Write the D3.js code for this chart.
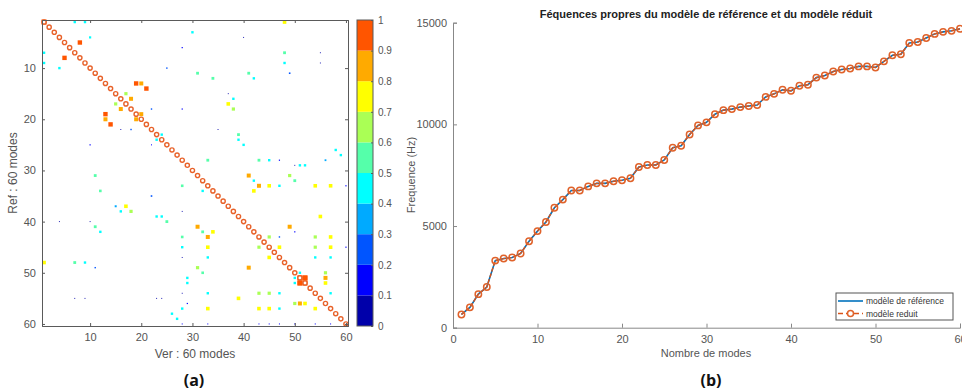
<!DOCTYPE html>
<html>
<head>
<meta charset="utf-8">
<script src="https://cdn.jsdelivr.net/npm/d3@7"></script>
<style>
  body { margin: 0; background: #fff; }
  svg { display: block; font-family: "Liberation Sans", Arial, sans-serif; }
</style>
</head>
<body>
<svg id="fig" width="962" height="391"></svg>
<script>
// ---- data ----
// panel (a): MAC matrix, off-diagonal entries (row, column, value)
const macRows = [1, 1, 4, 5, 8, 7, 9, 10, 10, 13, 13, 14, 15, 16, 17, 18, 19, 20, 20, 19, 21, 18, 22, 22, 23, 24, 25, 25, 18, 6, 3, 11, 31,
  1, 4, 7, 9, 11, 7, 9, 12, 11, 12, 16, 17, 18, 15, 23, 24, 25, 22, 26, 27, 28, 28, 28, 28, 28, 29, 29, 29, 31, 31,
  32, 32, 33, 33, 33, 33, 33, 33, 33, 34, 34, 38, 39, 41, 41, 42, 42, 42, 43, 43, 43, 43, 43, 43, 45, 45, 45, 45, 45, 45, 45,
  47, 47, 47, 47, 47, 49, 49, 50, 50, 51, 52, 51, 52, 50, 51, 52, 51, 52, 54, 55, 54, 54, 54, 54, 56, 56, 56, 57, 57, 57, 57, 57,
  60, 60, 60, 60, 60, 60, 60, 60,
  34, 35, 37, 37, 38, 38, 41, 42, 39, 39, 40, 40, 40, 48, 48, 48, 49, 55, 55, 55, 55, 56, 57, 58, 59, 54];
const macCols = [7, 9, 10, 8, 5, 1, 1, 4, 25, 19, 20, 21, 17, 18, 15, 16, 13, 13, 19, 20, 14, 22, 18, 16, 24, 23, 22, 10, 28, 28, 30, 31, 11,
  48, 40, 48, 48, 49, 55, 55, 34, 41, 42, 38, 37, 38, 37, 39, 39, 40, 35, 58, 59, 33, 43, 45, 47, 56, 51, 52, 50, 41, 49,
  42, 50, 28, 43, 45, 47, 54, 57, 60, 32, 42, 28, 55, 31, 49, 32, 34, 50, 28, 33, 45, 54, 57, 47, 28, 33, 43, 47, 54, 57, 60,
  33, 45, 54, 57, 28, 31, 41, 56, 32, 29, 29, 50, 50, 51, 56, 56, 52, 51, 33, 39, 43, 45, 47, 57, 50, 51, 52, 33, 43, 45, 47, 54,
  28, 33, 43, 45, 47, 50, 54, 57,
  12, 22, 15, 17, 16, 18, 11, 12, 23, 24, 25, 4, 10, 1, 7, 9, 11, 7, 9, 23, 24, 29, 28, 26, 27, 28];
const macVals = [0.45, 0.45, 0.4, 0.95, 0.95, 0.45, 0.45, 0.45, 0.2, 0.95, 0.85, 0.95, 0.65, 0.85, 0.65, 0.85, 0.95, 0.85, 0.85, 0.85, 0.95, 0.2, 0.2, 0.08, 0.45, 0.45, 0.1, 0.15, 0.15, 0.15, 0.45, 0.55, 0.55,
  0.75, 0.08, 0.55, 0.45, 0.25, 0.08, 0.08, 0.55, 0.55, 0.45, 0.45, 0.75, 0.65, 0.08, 0.55, 0.45, 0.45, 0.08, 0.45, 0.45, 0.55, 0.55, 0.45, 0.15, 0.3, 0.45, 0.45, 0.08, 0.85, 0.65,
  0.45, 0.55, 0.5, 0.85, 0.75, 0.45, 0.75, 0.75, 0.15, 0.45, 0.75, 0.08, 0.75, 0.85, 0.85, 0.55, 0.75, 0.15, 0.5, 0.85, 0.65, 0.65, 0.75, 0.2, 0.45, 0.75, 0.65, 0.75, 0.65, 0.75, 0.15,
  0.45, 0.75, 0.45, 0.45, 0.08, 0.65, 0.85, 0.65, 0.5, 0.45, 0.45, 0.45, 0.45, 0.45, 0.85, 0.75, 0.97, 0.97, 0.45, 0.75, 0.65, 0.65, 0.45, 0.45, 0.65, 0.85, 0.75, 0.75, 0.75, 0.75, 0.45, 0.75,
  0.1, 0.1, 0.1, 0.1, 0.1, 0.1, 0.1, 0.1,
  0.5, 0.25, 0.35, 0.75, 0.45, 0.65, 0.55, 0.45, 0.45, 0.45, 0.55, 0.08, 0.08, 0.75, 0.55, 0.45, 0.2, 0.08, 0.08, 0.08, 0.08, 0.15, 0.45, 0.45, 0.45, 0.08];
// diagonal blocks drawn as full cells (near-degenerate mode pairs)
const blockRows = [1, 51, 51, 52, 52];
const blockCols = [1, 51, 52, 51, 52];
const jetColors = ["#0000aa", "#0000ff", "#0055ff", "#00aaff", "#00ffff", "#55ffaa", "#aaff55", "#ffff00", "#ffaa00", "#ff5500"];
const matrixTicks = [10, 20, 30, 40, 50, 60];
const colorbarTicks = [0, 0.1, 0.2, 0.3, 0.4, 0.5, 0.6, 0.7, 0.8, 0.9, 1];

// panel (b): eigenfrequencies (Hz) per mode
const modes = d3.range(1, 61);
const freqRef = [650, 1000, 1650, 2000, 3300, 3400, 3450, 3650, 4250, 4750,
  5200, 5900, 6300, 6750, 6750, 6950, 7100, 7100, 7200, 7250,
  7350, 7900, 8000, 8000, 8250, 8850, 8950, 9500, 9950, 10100,
  10500, 10700, 10750, 10850, 10900, 10950, 11350, 11500, 11700, 11650,
  11900, 11950, 12300, 12400, 12600, 12700, 12750, 12850, 12850, 12800,
  13100, 13400, 13450, 14000, 14050, 14250, 14450, 14550, 14600, 14700];
const freqRed = [650, 1000, 1650, 2000, 3300, 3400, 3450, 3650, 4250, 4750,
  5200, 5900, 6300, 6750, 6750, 6950, 7100, 7100, 7200, 7250,
  7350, 7900, 8000, 8000, 8250, 8850, 8950, 9500, 9950, 10100,
  10500, 10700, 10750, 10850, 10900, 10950, 11350, 11500, 11700, 11650,
  11900, 11950, 12300, 12400, 12600, 12700, 12750, 12850, 12850, 12800,
  13100, 13400, 13450, 14000, 14050, 14250, 14450, 14550, 14600, 14700];
const freqTicks = [0, 5000, 10000, 15000];
const modeTicks = [0, 10, 20, 30, 40, 50, 60];

const svg = d3.select("#fig");
const axisGray = "#5a5a5a";
const textGray = "#555";

// ---------- panel (a) ----------
const mx = d3.scaleLinear().domain([0.6, 60.4]).range([42, 348]);
const my = d3.scaleLinear().domain([0.6, 60.4]).range([20, 326]);
const color = d3.scaleQuantize().domain([0, 1]).range(jetColors);
const cellSize = v => 0.6 + 4.0 * v;

const pa = svg.append("g");

const entries = macRows.map((r, i) => ({ r, c: macCols[i], v: macVals[i] }));

pa.append("g").selectAll("rect")
  .data(entries)
  .enter()
  .append("rect")
  .attr("x", d => mx(d.c) - cellSize(d.v) / 2)
  .attr("y", d => my(d.r) - cellSize(d.v) / 2)
  .attr("width", d => cellSize(d.v))
  .attr("height", d => cellSize(d.v))
  .attr("fill", d => color(Math.min(d.v, 0.999)));

// full-cell blocks on the diagonal
const cw = mx(2) - mx(1);
pa.append("g").selectAll("rect")
  .data(blockRows.map((r, i) => ({ r, c: blockCols[i] })))
  .enter()
  .append("rect")
  .attr("x", d => mx(d.c) - cw / 2)
  .attr("y", d => my(d.r) - cw / 2)
  .attr("width", cw)
  .attr("height", cw)
  .attr("fill", color(0.99));

// diagonal (value 1)
pa.append("g").selectAll("circle")
  .data(modes)
  .enter()
  .append("circle")
  .attr("cx", d => mx(d))
  .attr("cy", d => my(d))
  .attr("r", 2.1)
  .attr("fill", "#fff")
  .attr("stroke", "#e8622a")
  .attr("stroke-width", 1.4);

// box and ticks
const axB = pa.append("g").attr("transform", "translate(0,326)")
  .call(d3.axisBottom(mx).tickValues(matrixTicks).tickSize(-3).tickPadding(7));
const axT = pa.append("g").attr("transform", "translate(0,20)")
  .call(d3.axisTop(mx).tickValues(matrixTicks).tickSize(-3).tickFormat(""));
const axL = pa.append("g").attr("transform", "translate(42,0)")
  .call(d3.axisLeft(my).tickValues(matrixTicks).tickSize(-3).tickPadding(6));
const axR = pa.append("g").attr("transform", "translate(348,0)")
  .call(d3.axisRight(my).tickValues(matrixTicks).tickSize(-3).tickFormat(""));

[axB, axT, axL, axR].forEach(a => {
  a.select(".domain").attr("stroke", axisGray).attr("stroke-width", 1);
  a.selectAll(".tick line").attr("stroke", axisGray);
  a.selectAll(".tick text").attr("fill", textGray).attr("font-size", 11);
});

pa.append("text")
  .attr("transform", "translate(17,173) rotate(-90)")
  .attr("text-anchor", "middle")
  .attr("font-size", 12)
  .attr("fill", textGray)
  .text("Ref : 60 modes");

pa.append("text")
  .attr("x", 195).attr("y", 358)
  .attr("text-anchor", "middle")
  .attr("font-size", 12)
  .attr("fill", textGray)
  .text("Ver : 60 modes");

// colorbar
const cbY = d3.scaleLinear().domain([0, 1]).range([326, 20]);
const cb = svg.append("g");
cb.selectAll("rect")
  .data(jetColors)
  .enter()
  .append("rect")
  .attr("x", 357)
  .attr("y", (d, i) => cbY((i + 1) / 10))
  .attr("width", 16)
  .attr("height", (d, i) => cbY(i / 10) - cbY((i + 1) / 10))
  .attr("fill", d => d);

cb.append("rect")
  .attr("x", 357).attr("y", 20).attr("width", 16).attr("height", 306)
  .attr("fill", "none").attr("stroke", axisGray);

const cbAxis = cb.append("g").attr("transform", "translate(373,0)")
  .call(d3.axisRight(cbY).tickValues(colorbarTicks).tickSize(-2).tickPadding(5).tickFormat(d3.format("~g")));
cbAxis.select(".domain").remove();
cbAxis.selectAll(".tick line").attr("stroke", axisGray);
cbAxis.selectAll(".tick text").attr("fill", textGray).attr("font-size", 10);

// ---------- panel (b) ----------
const fx = d3.scaleLinear().domain([0, 60]).range([453, 960]);
const fy = d3.scaleLinear().domain([0, 15000]).range([327.7, 22.7]);
const pb = svg.append("g");

const axX = pb.append("g").attr("transform", "translate(0,327.7)")
  .call(d3.axisBottom(fx).tickValues(modeTicks).tickSize(-4).tickPadding(8));
const axY = pb.append("g").attr("transform", "translate(453,0)")
  .call(d3.axisLeft(fy).tickValues(freqTicks).tickSize(-4).tickPadding(6).tickFormat(d3.format("d")));
[axX, axY].forEach(a => {
  a.select(".domain").attr("stroke", "#888");
  a.selectAll(".tick line").attr("stroke", "#888");
  a.selectAll(".tick text").attr("fill", textGray).attr("font-size", 11);
});

const line = d3.line().x((d, i) => fx(modes[i])).y(d => fy(d));

pb.append("path")
  .datum(freqRef)
  .attr("d", line)
  .attr("fill", "none")
  .attr("stroke", "#0072bd")
  .attr("stroke-width", 1.6);

pb.append("path")
  .datum(freqRed)
  .attr("d", line)
  .attr("fill", "none")
  .attr("stroke", "#d95319")
  .attr("stroke-width", 1.4)
  .attr("stroke-dasharray", "4,2");

pb.append("g").selectAll("circle")
  .data(freqRed)
  .enter()
  .append("circle")
  .attr("cx", (d, i) => fx(modes[i]))
  .attr("cy", d => fy(d))
  .attr("r", 3.2)
  .attr("fill", "none")
  .attr("stroke", "#e0622a")
  .attr("stroke-width", 1.5);

pb.append("text")
  .attr("x", 706).attr("y", 18)
  .attr("text-anchor", "middle")
  .attr("font-size", 11)
  .attr("font-weight", "bold")
  .attr("fill", "#222")
  .text("Féquences propres du modèle de référence et du modèle réduit");

pb.append("text")
  .attr("transform", "translate(415,175) rotate(-90)")
  .attr("text-anchor", "middle")
  .attr("font-size", 11)
  .attr("fill", textGray)
  .text("Frequence (Hz)");

pb.append("text")
  .attr("x", 706).attr("y", 357)
  .attr("text-anchor", "middle")
  .attr("font-size", 11)
  .attr("fill", textGray)
  .text("Nombre de modes");

// legend
const lg = pb.append("g").attr("transform", "translate(836,293)");
lg.append("rect")
  .attr("width", 117).attr("height", 27)
  .attr("fill", "#fff").attr("stroke", "#555");
lg.append("line")
  .attr("x1", 2).attr("x2", 27).attr("y1", 8).attr("y2", 8)
  .attr("stroke", "#0072bd").attr("stroke-width", 1.6);
lg.append("line")
  .attr("x1", 2).attr("x2", 27).attr("y1", 20.5).attr("y2", 20.5)
  .attr("stroke", "#d95319").attr("stroke-width", 1.4).attr("stroke-dasharray", "5,3");
lg.append("circle")
  .attr("cx", 14.5).attr("cy", 20.5).attr("r", 3)
  .attr("fill", "#fff").attr("stroke", "#e0622a").attr("stroke-width", 1.5);
lg.append("text").attr("x", 30).attr("y", 11).attr("font-size", 8.5).attr("fill", "#333").text("modèle de référence");
lg.append("text").attr("x", 30).attr("y", 24).attr("font-size", 8.5).attr("fill", "#333").text("modèle reduit");

// panel captions
svg.append("text")
  .attr("x", 194).attr("y", 386)
  .attr("text-anchor", "middle")
  .attr("font-family", "'Open Sans', sans-serif")
  .attr("font-weight", "bold")
  .attr("font-size", 16)
  .attr("fill", "#111")
  .text("(a)");
svg.append("text")
  .attr("x", 711).attr("y", 386)
  .attr("text-anchor", "middle")
  .attr("font-family", "'Open Sans', sans-serif")
  .attr("font-weight", "bold")
  .attr("font-size", 16)
  .attr("fill", "#111")
  .text("(b)");
</script>
</body>
</html>
